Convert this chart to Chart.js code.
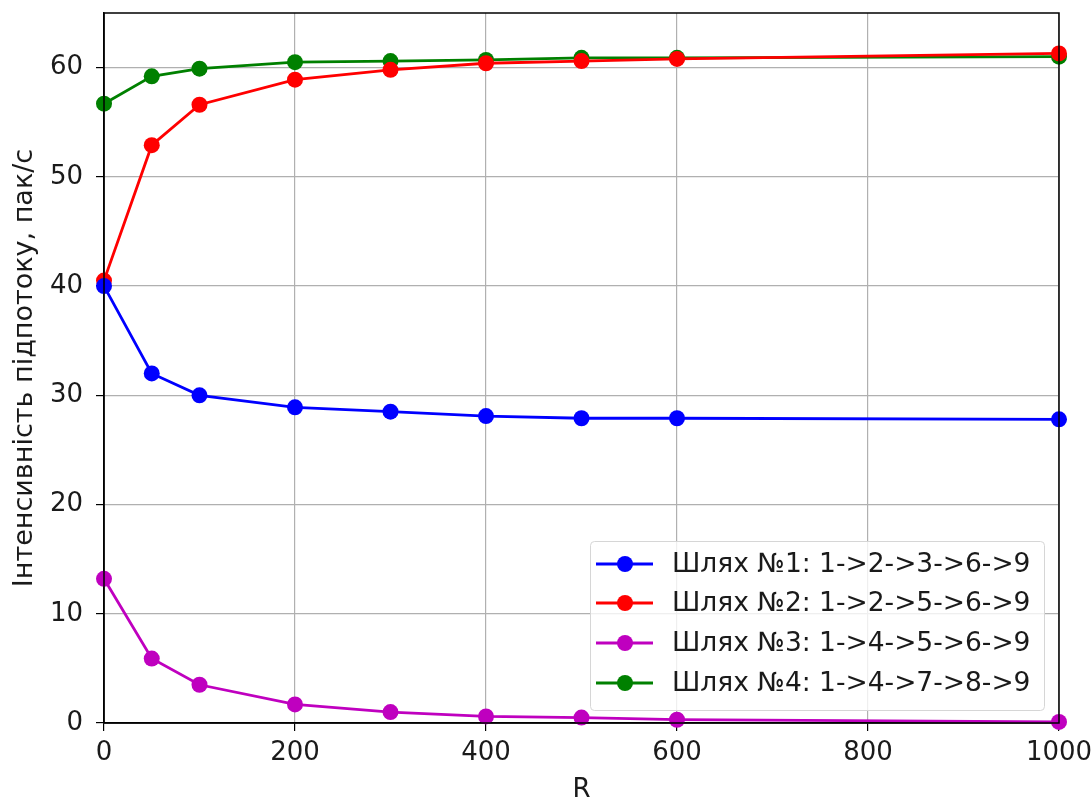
<!DOCTYPE html>
<html>
<head>
<meta charset="utf-8">
<script src="https://cdn.jsdelivr.net/npm/chart.js@4"></script>
<style>
  html, body { margin: 0; padding: 0; background: #fff; }
  #wrap { width: 1092px; height: 803px; }
</style>
</head>
<body>
<div id="wrap"><canvas id="chart" width="1092" height="803"></canvas></div>
<script>
// значення R
const rValues = [0, 50, 100, 200, 300, 400, 500, 600, 1000];

// інтенсивність підпотоку по шляхах, пак/с
const path1 = [40.0, 32.0, 30.0, 28.9, 28.5, 28.1, 27.9, 27.9, 27.8];
const path2 = [40.5, 52.9, 56.6, 58.9, 59.8, 60.4, 60.6, 60.8, 61.3];
const path3 = [13.2, 5.9, 3.5, 1.7, 1.0, 0.6, 0.5, 0.3, 0.1];
const path4 = [56.7, 59.2, 59.9, 60.5, 60.6, 60.7, 60.9, 60.9, 61.0];

const seriesLabels = [
  "Шлях №1: 1->2->3->6->9",
  "Шлях №2: 1->2->5->6->9",
  "Шлях №3: 1->4->5->6->9",
  "Шлях №4: 1->4->7->8->9",
];
const seriesColors = ["#0000ff", "#ff0000", "#bf00bf", "#008000"];
const seriesValues = [path1, path2, path3, path4];

const xTicks = [0, 200, 400, 600, 800, 1000];
const yTicks = [0, 10, 20, 30, 40, 50, 60];

const FONT = "'DejaVu Sans', sans-serif";

const datasets = seriesValues.map(function (vals, i) {
  return {
    label: seriesLabels[i],
    data: rValues.map(function (r, j) { return { x: r, y: vals[j] }; }),
    borderColor: seriesColors[i],
    backgroundColor: seriesColors[i],
    borderWidth: 2.8,
    pointRadius: 8,
    pointBorderWidth: 0,
    pointHoverRadius: 8,
    fill: false,
    tension: 0,
    clip: false,
  };
});

// рамка навколо області графіка
const framePlugin = {
  id: "frame",
  afterDatasetsDraw: function (chart) {
    const a = chart.chartArea;
    const ctx = chart.ctx;
    ctx.save();
    ctx.strokeStyle = "#000";
    ctx.lineWidth = 1.5;
    ctx.strokeRect(a.left, a.top, a.right - a.left, a.bottom - a.top);
    ctx.restore();
  },
};

// легенда всередині графіка (правий нижній кут)
const innerLegend = {
  id: "innerLegend",
  afterDraw: function (chart) {
    const ctx = chart.ctx;
    const boxL = 590, boxT = 541, boxW = 454, boxH = 169;
    ctx.save();
    ctx.fillStyle = "rgba(255,255,255,0.8)";
    ctx.strokeStyle = "#d6d6d6";
    ctx.lineWidth = 1;
    ctx.beginPath();
    ctx.roundRect(boxL + 0.5, boxT + 0.5, boxW, boxH, 4);
    ctx.fill();
    ctx.stroke();
    const rowY = [564, 603, 643, 683];
    chart.data.datasets.forEach(function (ds, i) {
      const y = rowY[i];
      ctx.strokeStyle = ds.borderColor;
      ctx.lineWidth = 2.8;
      ctx.beginPath();
      ctx.moveTo(596, y);
      ctx.lineTo(653, y);
      ctx.stroke();
      ctx.fillStyle = ds.backgroundColor;
      ctx.beginPath();
      ctx.arc(625, y, 8, 0, Math.PI * 2);
      ctx.fill();
      ctx.fillStyle = "#1a1a1a";
      ctx.font = "26.5px " + FONT;
      ctx.textBaseline = "middle";
      ctx.textAlign = "left";
      ctx.fillText(ds.label, 672, y + 1);
    });
    ctx.restore();
  },
};

new Chart(document.getElementById("chart").getContext("2d"), {
  type: "line",
  data: { datasets: datasets },
  plugins: [framePlugin, innerLegend],
  options: {
    responsive: false,
    animation: false,
    layout: { padding: { left: 0, top: 13, right: 33, bottom: 0 } },
    plugins: {
      legend: { display: false },
      tooltip: { enabled: false },
    },
    scales: {
      x: {
        type: "linear",
        min: 0,
        max: 1000,
        afterBuildTicks: function (scale) {
          scale.ticks = xTicks.map(function (v) { return { value: v }; });
        },
        afterFit: function (scale) {
          scale.height = 80;
          scale.paddingLeft = 0;
          scale.paddingRight = 0;
        },
        grid: {
          color: "#b0b0b0",
          lineWidth: 1.2,
          tickColor: "#000",
          tickLength: 8,
          drawOnChartArea: true,
        },
        border: { display: true, color: "#000", width: 1.5 },
        ticks: {
          color: "#1a1a1a",
          font: { family: FONT, size: 26 },
          padding: 7,
          maxRotation: 0,
          callback: function (v) { return String(v); },
        },
        title: {
          display: true,
          text: "R",
          color: "#1a1a1a",
          font: { family: FONT, size: 26, lineHeight: 1 },
          padding: { top: 0, bottom: 0 },
        },
      },
      y: {
        type: "linear",
        min: 0,
        max: 65,
        afterBuildTicks: function (scale) {
          scale.ticks = yTicks.map(function (v) { return { value: v }; });
        },
        afterFit: function (scale) {
          scale.width = 104;
          scale.paddingTop = 0;
          scale.paddingBottom = 0;
        },
        grid: {
          color: "#b0b0b0",
          lineWidth: 1.2,
          tickColor: "#000",
          tickLength: 8,
        },
        border: { display: true, color: "#000", width: 1.5 },
        ticks: {
          color: "#1a1a1a",
          font: { family: FONT, size: 26 },
          padding: 13,
          callback: function (v) { return String(v); },
        },
        title: {
          display: true,
          text: "Інтенсивність підпотоку, пак/с",
          color: "#1a1a1a",
          font: { family: FONT, size: 27, lineHeight: 1 },
          padding: { top: 11, bottom: 0 },
        },
      },
    },
  },
});
</script>
</body>
</html>
